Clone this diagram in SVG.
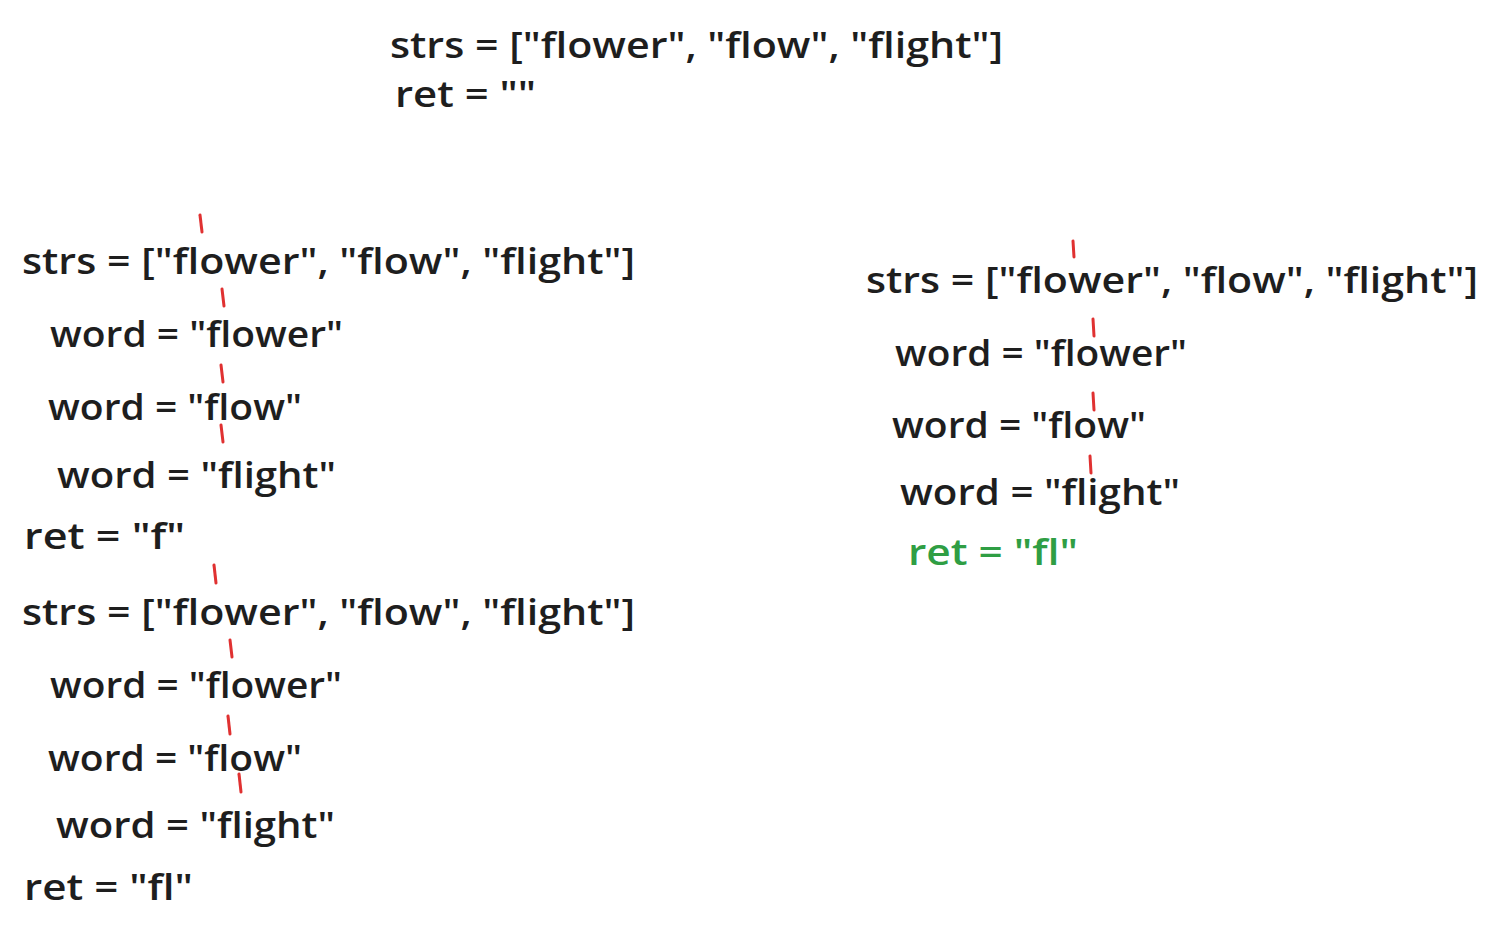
<svg xmlns="http://www.w3.org/2000/svg" width="1500" height="934" viewBox="0 0 1500 934">
<style>
.t{font-family:"Open Sans","Liberation Sans",sans-serif;font-size:36px;font-weight:600;fill:#1e1e1e;}
.g{fill:#2f9e44;}
.m{stroke:#e03131;stroke-width:3;stroke-linecap:round;fill:none;}
</style>
<rect width="1500" height="934" fill="#ffffff"/>
<g id="init">
<text class="t" x="390" y="58" textLength="613" lengthAdjust="spacingAndGlyphs">strs = ["flower", "flow", "flight"]</text>
<text class="t" x="395" y="107" textLength="141" lengthAdjust="spacingAndGlyphs">ret = ""</text>
</g>
<g id="step1">
<text class="t" x="22" y="274" textLength="613" lengthAdjust="spacingAndGlyphs">strs = ["flower", "flow", "flight"]</text>
<text class="t" x="50" y="347" textLength="293" lengthAdjust="spacingAndGlyphs">word = "flower"</text>
<text class="t" x="48" y="420" textLength="254" lengthAdjust="spacingAndGlyphs">word = "flow"</text>
<text class="t" x="57" y="488" textLength="279" lengthAdjust="spacingAndGlyphs">word = "flight"</text>
<text class="t" x="24" y="549" textLength="161" lengthAdjust="spacingAndGlyphs">ret = "f"</text>
</g>
<g id="step2">
<text class="t" x="22" y="625" textLength="613" lengthAdjust="spacingAndGlyphs">strs = ["flower", "flow", "flight"]</text>
<text class="t" x="50" y="698" textLength="292" lengthAdjust="spacingAndGlyphs">word = "flower"</text>
<text class="t" x="48" y="771" textLength="254" lengthAdjust="spacingAndGlyphs">word = "flow"</text>
<text class="t" x="56" y="838" textLength="279" lengthAdjust="spacingAndGlyphs">word = "flight"</text>
<text class="t" x="24" y="900" textLength="169" lengthAdjust="spacingAndGlyphs">ret = "fl"</text>
</g>
<g id="step3">
<text class="t" x="866" y="293" textLength="612" lengthAdjust="spacingAndGlyphs">strs = ["flower", "flow", "flight"]</text>
<text class="t" x="895" y="366" textLength="292" lengthAdjust="spacingAndGlyphs">word = "flower"</text>
<text class="t" x="892" y="438" textLength="254" lengthAdjust="spacingAndGlyphs">word = "flow"</text>
<text class="t" x="900" y="505" textLength="280" lengthAdjust="spacingAndGlyphs">word = "flight"</text>
<text class="t g" x="908" y="565" textLength="170" lengthAdjust="spacingAndGlyphs">ret = "fl"</text>
</g>
<g id="markers">
<line class="m" x1="200" y1="215" x2="202" y2="232"/>
<line class="m" x1="222" y1="289" x2="224" y2="306"/>
<line class="m" x1="221" y1="365" x2="223" y2="382"/>
<line class="m" x1="221" y1="425" x2="223" y2="442"/>
<line class="m" x1="214" y1="565" x2="216" y2="583"/>
<line class="m" x1="230" y1="640" x2="232" y2="657"/>
<line class="m" x1="228" y1="716" x2="230" y2="734"/>
<line class="m" x1="239" y1="774" x2="241" y2="792"/>
<line class="m" x1="1073" y1="241" x2="1074" y2="257"/>
<line class="m" x1="1093" y1="319" x2="1094" y2="336"/>
<line class="m" x1="1093" y1="393" x2="1094" y2="410"/>
<line class="m" x1="1090" y1="456" x2="1091" y2="473"/>
</g>
</svg>
